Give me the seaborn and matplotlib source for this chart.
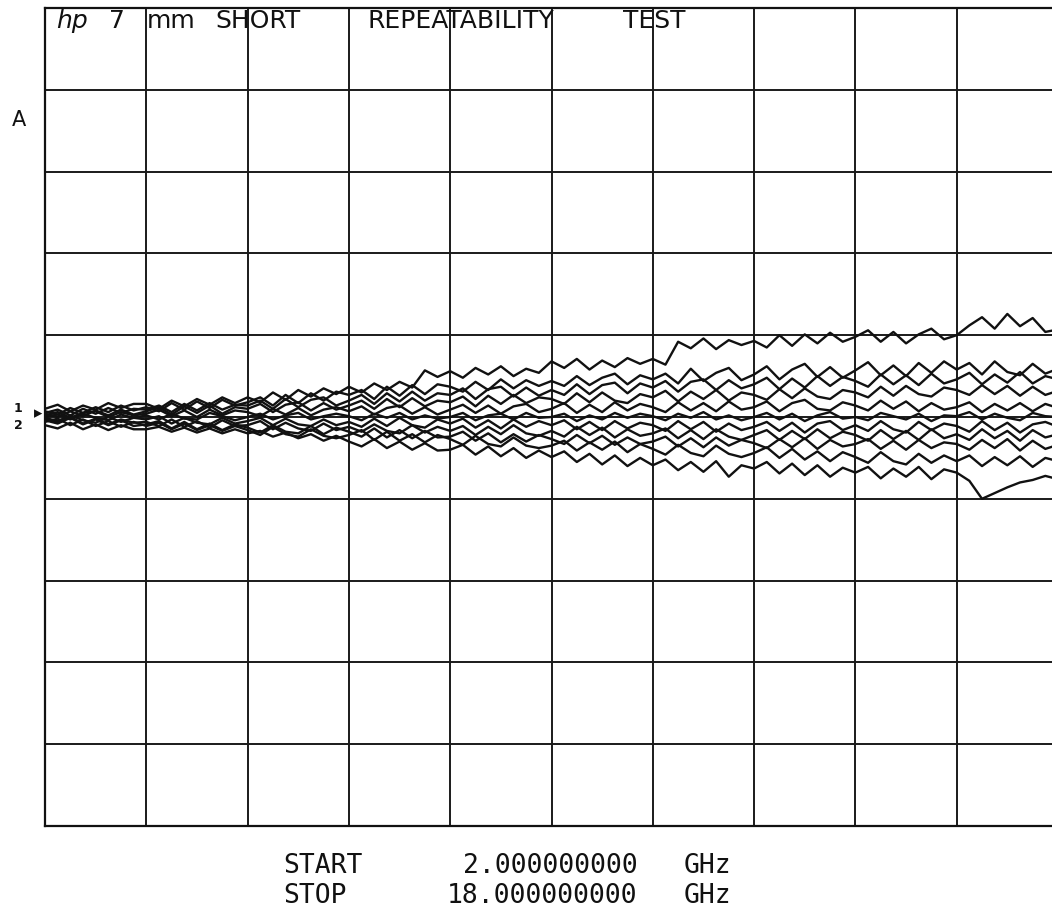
import numpy as np
import pandas as pd
import matplotlib
matplotlib.use("Agg")
import matplotlib.pyplot as plt
import seaborn as sns

# Frequency sweep (GHz), 81 points
freq_start = 2.0
freq_stop = 18.0
n_pts = 81

# Traces: deviation in 1/100 of a vertical division (one division = 100)
trace_1 = [10, 15, 7, 14, 9, 17, 11, 16,
           16, 10, 20, 13, 22, 15, 24, 17,
           24, 18, 30, 21, 33, 25, 35, 28,
           37, 30, 41, 33, 43, 36, 57, 49,
           56, 48, 60, 52, 62, 50, 59, 54,
           68, 60, 71, 58, 69, 61, 72, 65,
           71, 64, 92, 84, 96, 83, 94, 88,
           93, 85, 100, 87, 101, 90, 103, 92,
           98, 106, 92, 104, 90, 101, 108, 95,
           100, 112, 122, 108, 126, 111, 121, 104, 107]
trace_2 = [7, 3, 11, 5, 12, 6, 14, 8,
           12, 7, 17, 9, 19, 11, 21, 14,
           18, 24, 14, 27, 17, 29, 20, 31,
           27, 33, 22, 37, 26, 39, 28, 40,
           37, 31, 43, 33, 46, 35, 45, 38,
           44, 38, 50, 39, 48, 53, 40, 51,
           46, 53, 41, 59, 44, 54, 60, 45,
           52, 62, 46, 58, 65, 49, 61, 48,
           57, 67, 51, 63, 50, 66, 54, 68,
           58, 66, 52, 68, 55, 51, 65, 53, 59]
trace_3 = [5, 9, 2, 10, 4, 11, 5, 10,
           9, 14, 6, 16, 8, 17, 9, 15,
           14, 20, 10, 22, 12, 21, 24, 14,
           20, 27, 16, 29, 19, 31, 20, 29,
           27, 35, 22, 34, 37, 25, 36, 26,
           33, 27, 40, 28, 39, 42, 29, 41,
           36, 44, 31, 43, 46, 33, 45, 35,
           40, 48, 34, 47, 36, 50, 38, 49,
           44, 37, 52, 40, 51, 39, 53, 41,
           46, 54, 40, 52, 42, 55, 41, 50, 46]
trace_4 = [4, 0, 7, 1, 8, 2, 9, 3,
           7, 12, 3, 13, 5, 14, 4, 12,
           10, 16, 6, 15, 18, 8, 17, 9,
           14, 20, 10, 22, 12, 23, 13, 20,
           18, 25, 13, 26, 16, 27, 17, 24,
           22, 16, 29, 18, 30, 20, 17, 28,
           24, 32, 19, 31, 22, 33, 20, 30,
           27, 21, 34, 23, 35, 25, 22, 33,
           30, 24, 37, 26, 38, 28, 25, 36,
           33, 27, 39, 28, 38, 26, 37, 27, 32]
trace_5 = [2, 6, -1, 5, 7, 0, 6, 2,
           4, 9, 1, 8, 0, 9, 2, 8,
           6, 1, 10, 3, 11, 2, 9, 12,
           7, 13, 3, 11, 14, 4, 12, 3,
           9, 15, 5, 14, 4, 13, 16, 6,
           10, 17, 5, 15, 6, 18, 8, 16,
           12, 6, 18, 8, 17, 7, 19, 9,
           12, 19, 7, 17, 21, 10, 8, 18,
           14, 8, 20, 10, 19, 7, 17, 9,
           12, 18, 6, 16, 8, 17, 7, 16, 11]
trace_6 = [0, 3, -3, 4, -1, -4, 3, -1,
           2, -3, 4, -2, -3, 5, 1, -4,
           0, 4, -3, 2, 5, -3, 1, 4,
           1, -4, 4, -1, 5, -3, 2, -2,
           0, 5, -4, 2, 4, -3, 5, -1,
           0, 4, -5, 2, -3, 5, -1, 4,
           1, -4, 4, -1, 6, -3, 2, -4,
           0, 5, -3, 4, -5, 2, 6, -2,
           0, -4, 5, 1, -3, 4, -5, 2,
           1, 6, -3, 4, -1, -4, 5, 1, 0]
trace_7 = [-1, -5, 2, -4, -7, 0, -6, -1,
           -3, 1, -8, -1, -7, -9, -1, -8,
           -5, -1, -10, -2, -9, -11, -3, -10,
           -6, -12, -2, -11, -1, -10, -13, -3,
           -8, -2, -13, -4, -14, -3, -12, -5,
           -10, -4, -15, -6, -16, -5, -14, -7,
           -10, -17, -5, -15, -6, -18, -8, -16,
           -12, -6, -17, -7, -19, -8, -5, -16,
           -10, -17, -5, -15, -19, -6, -16, -8,
           -11, -18, -5, -16, -7, -19, -9, -6, -12]
trace_8 = [-3, -7, 0, -8, -2, -9, -3, -7,
           -6, -11, -3, -12, -5, -13, -4, -11,
           -10, -5, -15, -7, -14, -17, -8, -16,
           -12, -18, -9, -17, -20, -10, -19, -12,
           -17, -11, -22, -12, -21, -10, -20, -23,
           -17, -24, -12, -22, -13, -25, -15, -23,
           -20, -14, -26, -16, -27, -15, -24, -28,
           -22, -16, -28, -17, -27, -15, -26, -18,
           -22, -29, -16, -27, -17, -28, -15, -26,
           -21, -28, -15, -26, -17, -29, -16, -25, -21]
trace_9 = [-4, -8, -1, -9, -3, -10, -4, -11,
           -9, -5, -14, -6, -15, -8, -16, -9,
           -13, -19, -10, -18, -20, -11, -21, -13,
           -18, -24, -14, -25, -16, -26, -17, -25,
           -24, -18, -29, -20, -31, -21, -30, -22,
           -27, -33, -22, -32, -23, -34, -25, -33,
           -30, -24, -36, -26, -37, -25, -35, -28,
           -32, -38, -27, -37, -26, -39, -28, -36,
           -33, -27, -39, -29, -40, -28, -38, -31,
           -33, -40, -28, -38, -27, -41, -29, -39, -34]
trace_10 = [-6, -2, -10, -3, -11, -5, -12, -6,
            -11, -7, -15, -8, -16, -10, -17, -11,
            -16, -22, -12, -21, -24, -15, -23, -26,
            -22, -16, -28, -18, -29, -21, -31, -22,
            -27, -34, -23, -33, -36, -25, -35, -38,
            -35, -29, -41, -31, -40, -30, -43, -33,
            -39, -46, -34, -44, -48, -35, -45, -49,
            -44, -37, -50, -39, -52, -42, -54, -43,
            -49, -56, -43, -54, -58, -45, -56, -47,
            -54, -47, -60, -49, -59, -48, -61, -50, -54]
trace_11 = [-10, -14, -7, -15, -9, -16, -10, -15,
            -15, -12, -18, -13, -19, -14, -20, -15,
            -20, -17, -24, -19, -26, -21, -29, -23,
            -30, -36, -27, -38, -30, -40, -32, -41,
            -40, -34, -46, -36, -48, -38, -50, -41,
            -49, -42, -55, -45, -58, -47, -60, -50,
            -59, -52, -65, -55, -67, -54, -73, -59,
            -63, -55, -69, -57, -71, -59, -73, -62,
            -68, -61, -75, -63, -73, -61, -76, -64,
            -68, -78, -100, -93, -86, -80, -77, -72, -76]

traces = [trace_1, trace_2, trace_3, trace_4, trace_5, trace_6,
          trace_7, trace_8, trace_9, trace_10, trace_11]

title_words = ["hp", "7", "mm", "SHORT", "REPEATABILITY", "TEST"]
start_label = ["START", "2.000000000", "GHz"]
stop_label = ["STOP", "18.000000000", "GHz"]

freq = np.linspace(freq_start, freq_stop, n_pts)
rows = []
for k, tr in enumerate(traces):
    for f, v in zip(freq, tr):
        rows.append({"freq": f, "dev": v, "trace": f"T{k+1}"})
df = pd.DataFrame(rows)

sns.set_style("white")
plt.rcParams['font.family'] = ['DejaVu Sans']

W, H = 1052, 916
fig = plt.figure(figsize=(W / 100, H / 100), dpi=100)
ax = fig.add_axes([45 / W, 1 - 826 / H, (1058 - 45) / W, (826 - 8) / H])

sns.lineplot(data=df, x="freq", y="dev", hue="trace",
             palette=["#111111"] * len(traces), legend=False,
             linewidth=1.7, ax=ax, estimator=None)

ax.set_xlim(freq_start, freq_stop)
ax.set_ylim(-500, 500)
ax.set_xticks(np.linspace(freq_start, freq_stop, 11))
ax.set_yticks(np.arange(-500, 501, 100))
ax.grid(True, color="#1a1a1a", linewidth=1.4)
ax.tick_params(length=0, labelbottom=False, labelleft=False)
ax.set_xlabel("")
ax.set_ylabel("")
for s in ax.spines.values():
    s.set_color("#111111")
    s.set_linewidth(1.6)


def px(x, y):
    return x / W, 1 - y / H


fs = 18
# Title words centred where they sit in the top row
positions = [(72, "italic"), (117, "normal"), (171, "normal"),
             (258, "normal"), (461, "normal"), (654, "normal")]
for word, (x0, st) in zip(title_words, positions):
    fig.text(*px(x0, 21), word, fontsize=fs, style=st, ha="center",
             va="center", color="#111111", fontfamily="DejaVu Sans")

fig.text(*px(19, 120), "A", fontsize=15, ha="center", va="center",
         color="#111111")
fig.text(*px(18, 409), "1", fontsize=9, fontweight="bold", ha="center",
         va="center", color="#111111")
fig.text(*px(18, 426), "2", fontsize=9, fontweight="bold", ha="center",
         va="center", color="#111111")
fig.text(*px(38, 413), "\u25b8", fontsize=12, ha="center", va="center",
         color="#111111")

mono = "DejaVu Sans Mono"
for lab, y, xc in [(start_label, 866, 550), (stop_label, 896, 542)]:
    fig.text(*px(283, y), lab[0], fontsize=19, ha="left", va="center",
             fontfamily=mono, color="#111111")
    fig.text(*px(xc, y), lab[1], fontsize=19, ha="center", va="center",
             fontfamily=mono, color="#111111")
    fig.text(*px(707, y), lab[2], fontsize=19, ha="center", va="center",
             fontfamily=mono, color="#111111")

fig.savefig("out.png", dpi=100, facecolor="white")
